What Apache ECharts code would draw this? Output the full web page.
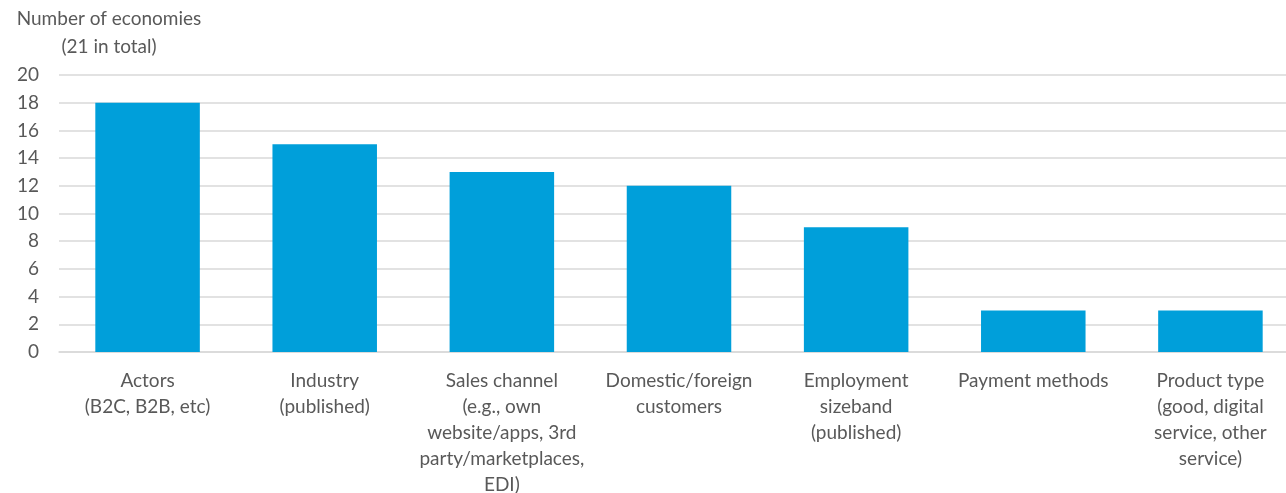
<!DOCTYPE html>
<html>
<head>
<meta charset="utf-8">
<script src="https://cdn.jsdelivr.net/npm/echarts@6/dist/echarts.min.js"></script>
<style>
  html, body { margin: 0; padding: 0; background: #fff; }
  #chart { width: 1286px; height: 493px; }
</style>
</head>
<body>
<div id="chart"></div>
<script>
const categories = [
  'Actors\n(B2C, B2B, etc)',
  'Industry\n(published)',
  'Sales channel\n(e.g., own\nwebsite/apps, 3rd\nparty/marketplaces,\nEDI)',
  'Domestic/foreign\ncustomers',
  'Employment\nsizeband\n(published)',
  'Payment methods',
  'Product type\n(good, digital\nservice, other\nservice)'
];
const economies = [18, 15, 13, 12, 9, 3, 3];
const axisTitle = 'Number of economies\n(21 in total)';

const font = 'Lato, "Open Sans", sans-serif';
const textColor = '#595959';

const myChart = echarts.init(document.getElementById('chart'));
const option = {
  animation: false,
  graphic: [{
    type: 'text',
    x: 109,
    y: 5,
    style: {
      text: axisTitle,
      fill: textColor,
      font: '19px ' + font,
      align: 'center',
      verticalAlign: 'top',
      lineHeight: 28
    }
  }],
  grid: { left: 59, top: 75, width: 1240, height: 277, outerBoundsMode: 'none' },
  xAxis: {
    type: 'category',
    data: categories,
    axisLine: { lineStyle: { color: '#d9d9d9', width: 1.5 } },
    axisTick: { show: false },
    axisLabel: {
      interval: 0,
      color: textColor,
      fontFamily: font,
      fontSize: 19,
      lineHeight: 26,
      margin: 16
    }
  },
  yAxis: {
    type: 'value',
    min: 0,
    max: 20,
    interval: 2,
    axisLine: { show: false },
    axisTick: { show: false },
    splitLine: { lineStyle: { color: '#d9d9d9', width: 1.5 } },
    axisLabel: {
      color: textColor,
      fontFamily: font,
      fontSize: 19,
      margin: 20
    }
  },
  series: [{
    type: 'bar',
    data: economies,
    barWidth: '59%',
    itemStyle: { color: '#009fda' }
  }]
};
myChart.setOption(option);
window.addEventListener('resize', function () { myChart.resize(); });
</script>
</body>
</html>
